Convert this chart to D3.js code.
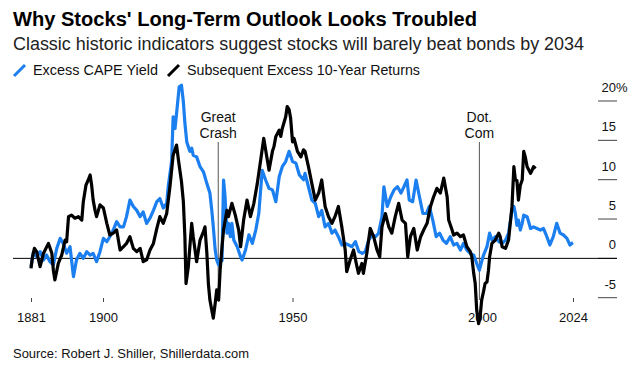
<!DOCTYPE html>
<html lang="en">
<head>
  <meta charset="UTF-8">
  <script src="https://d3js.org/d3.v7.min.js"></script>
  <title>Why Stocks' Long-Term Outlook Looks Troubled</title>
  <style>
    body { margin: 0; background: #fff; }
    svg { display: block; font-family: "Liberation Sans", Arial, sans-serif; }
  </style>
</head>
<body>
  <svg width="637" height="366"></svg>
  <script>
    // values: [year, percent]
    const capeYield = [
      [1881.0,-1.06],[1881.6,0.72],[1882.5,0.21],[1883.4,0.85],[1884.3,-0.21],[1885.1,0.42],
      [1886.0,-0.42],[1886.9,-0.85],[1887.8,1.27],[1888.7,2.54],[1889.5,1.91],[1890.4,0.64],
      [1891.3,1.48],[1892.2,-2.33],[1893.0,-0.21],[1893.9,0.64],[1894.8,0],[1895.7,0.85],
      [1896.6,0.42],[1897.4,0.64],[1898.3,-0.42],[1899.2,0.85],[1900.1,2.54],[1901.0,2.12],
      [1901.8,2.75],[1902.7,3.6],[1903.6,4.66],[1904.5,4.0],[1905.4,4.0],[1906.2,5.3],
      [1907.1,7.4],[1908.0,6.6],[1908.9,6.1],[1909.8,5.3],[1910.6,5.9],[1911.5,4.45],
      [1912.4,5.1],[1913.3,6.1],[1914.2,7.2],[1915.0,7.6],[1915.9,6.4],[1916.8,7.0],
      [1917.2,9.1],[1918.1,12.3],[1918.5,18.0],[1919.0,16.5],[1919.4,18.4],[1920.1,21.8],
      [1920.7,22.0],[1921.2,19.9],[1921.6,17.2],[1922.1,14.8],[1922.9,13.6],[1923.4,14.0],
      [1923.8,13.1],[1924.7,12.9],[1925.6,11.65],[1926.5,11.0],[1927.4,9.5],[1928.2,8.3],
      [1928.7,6.1],[1929.1,4.0],[1929.6,1.06],[1930.0,-0.2],[1930.5,-0.85],[1930.9,-0.2],
      [1931.4,-0.3],[1931.8,9.96],[1932.2,7.8],[1932.7,3.2],[1933.1,4.45],[1933.6,2.75],
      [1934.0,4.45],[1934.5,2.33],[1935.4,1.48],[1936.3,0.2],[1936.7,-0.2],[1937.6,1.06],
      [1938.5,3.0],[1939.4,1.9],[1940.3,3.6],[1941.1,5.7],[1942.0,11.2],[1942.9,9.96],
      [1943.8,8.9],[1944.7,8.7],[1945.6,7.2],[1946.5,10.4],[1947.3,11.65],[1948.2,12.3],
      [1949.1,13.6],[1950.0,12.3],[1950.9,12.1],[1951.8,10.6],[1952.9,10.0],[1953.3,10.8],
      [1954.2,9.1],[1955.1,7.4],[1956.0,7.0],[1956.9,5.3],[1957.7,6.1],[1958.6,4.0],
      [1959.5,4.45],[1960.4,3.2],[1961.2,3.6],[1962.1,2.75],[1963.0,1.7],[1963.9,1.9],
      [1964.8,1.7],[1965.7,1.48],[1966.6,2.12],[1967.5,0.85],[1968.4,0.64],[1969.2,0.85],
      [1970.1,2.33],[1971.0,3.0],[1971.9,2.75],[1972.7,3.2],[1973.6,5.3],[1974.1,9.1],
      [1975.0,6.6],[1975.9,7.8],[1976.8,8.7],[1977.7,9.1],[1978.6,8.3],[1979.4,9.1],
      [1980.2,9.96],[1980.8,7.4],[1981.7,7.2],[1982.6,9.96],[1983.5,7.8],[1984.4,5.7],
      [1985.3,5.7],[1986.1,6.6],[1987.0,4.87],[1987.9,2.75],[1988.8,3.2],[1989.7,2.33],
      [1990.6,1.9],[1991.6,2.75],[1992.5,1.7],[1993.4,1.9],[1994.3,1.06],[1995.1,1.9],
      [1996.0,1.06],[1996.9,0.64],[1997.8,0.42],[1998.6,-0.64],[1999.3,-1.5],[1999.9,-0.42],
      [2000.4,0.42],[2001.3,1.48],[2002.0,3.2],[2002.6,2.33],[2003.5,2.75],[2004.4,2.12],
      [2005.3,1.9],[2006.2,2.33],[2007.0,3.2],[2007.9,6.1],[2008.4,6.6],[2008.8,5.7],
      [2009.2,4.2],[2009.6,4.87],[2010.1,3.6],[2010.6,4.45],[2011.0,5.5],[2011.9,5.3],
      [2012.8,3.8],[2013.6,4.0],[2014.5,3.8],[2015.4,3.6],[2016.2,3.8],[2017.1,2.75],
      [2017.9,1.7],[2018.8,2.75],[2019.7,4.45],[2020.6,3.2],[2021.5,2.97],[2022.4,2.54],
      [2023.2,1.7],[2023.7,1.9],[2024.0,2.0]
    ];

    const excessReturns = [
      [1881.0,-1.27],[1881.4,0.2],[1881.9,1.27],[1882.5,0.85],[1883.4,-1.06],[1884.3,0.64],
      [1885.6,1.9],[1886.5,0.64],[1886.9,-1.5],[1887.3,-2.75],[1888.2,-0.64],[1889.1,0.42],
      [1890.0,2.33],[1890.4,2.1],[1890.9,5.3],[1891.7,5.5],[1892.6,5.1],[1893.5,5.3],
      [1894.4,4.87],[1894.8,7.2],[1895.5,9.3],[1896.1,9.96],[1896.6,10.6],[1897.0,9.3],
      [1897.4,7.4],[1897.9,6.1],[1898.3,5.3],[1899.2,6.8],[1900.1,6.4],[1901.0,4.45],
      [1901.8,2.97],[1902.7,3.2],[1903.6,3.6],[1904.5,1.06],[1905.4,1.48],[1906.2,1.9],
      [1907.1,2.75],[1908.0,1.27],[1908.9,0.85],[1909.8,1.27],[1910.6,-0.42],[1911.5,-0.2],
      [1912.4,1.06],[1913.3,1.9],[1914.2,3.8],[1915.0,5.3],[1915.9,4.45],[1916.8,5.7],
      [1917.7,9.3],[1918.5,13.1],[1919.4,14.4],[1919.9,12.5],[1920.7,9.75],[1921.2,7.2],
      [1921.6,2.75],[1921.9,-3.2],[1922.5,-1.06],[1923.4,4.45],[1923.8,2.75],[1924.7,-0.42],
      [1925.6,2.33],[1926.5,3.4],[1926.9,4.0],[1927.4,0.64],[1927.8,-3.2],[1928.2,-5.3],
      [1928.7,-6.6],[1929.1,-7.6],[1929.6,-5.7],[1930.0,-4.0],[1930.5,-5.3],[1930.9,-1.5],
      [1931.4,1.48],[1931.8,3.6],[1932.7,6.1],[1933.1,5.3],[1934.0,7.0],[1934.9,5.5],
      [1935.8,3.6],[1936.3,1.48],[1937.1,4.87],[1938.0,7.4],[1938.9,5.3],[1939.8,7.0],
      [1940.7,9.5],[1941.6,12.5],[1942.4,15.25],[1942.9,13.8],[1943.8,11.2],[1944.7,13.6],
      [1945.1,14.2],[1945.6,15.5],[1946.5,16.3],[1946.9,15.5],[1947.3,16.5],[1948.2,18.0],
      [1948.6,19.3],[1949.1,18.9],[1949.5,17.8],[1950.0,14.8],[1950.4,15.25],[1951.3,13.6],
      [1952.2,12.9],[1952.9,13.8],[1953.3,13.6],[1954.2,11.65],[1955.1,9.5],[1956.0,7.4],
      [1956.9,8.3],[1957.7,9.96],[1958.6,6.6],[1959.5,5.3],[1960.4,4.45],[1961.2,5.3],
      [1962.1,6.6],[1963.0,4.0],[1963.9,1.06],[1964.3,-1.7],[1965.2,-0.2],[1966.1,1.06],
      [1967.0,-1.06],[1967.4,-1.9],[1968.3,-0.64],[1968.7,-1.9],[1969.6,0.64],[1970.5,3.8],
      [1971.4,2.75],[1972.3,1.06],[1973.0,0.2],[1973.6,4.0],[1974.5,5.7],[1975.4,4.0],
      [1976.2,3.2],[1977.1,5.3],[1978.0,7.0],[1978.9,4.87],[1979.8,4.45],[1980.4,0.2],
      [1981.1,2.75],[1982.0,3.8],[1982.9,1.06],[1983.8,2.75],[1984.6,3.6],[1985.5,4.45],
      [1986.4,6.6],[1987.2,7.8],[1988.1,8.9],[1989.0,8.3],[1989.9,10.2],[1990.8,7.8],
      [1991.2,4.87],[1992.1,3.6],[1992.5,2.97],[1993.4,3.2],[1994.3,2.75],[1995.1,2.97],
      [1996.0,1.48],[1996.9,0.85],[1997.3,0.2],[1997.8,-1.9],[1998.2,-3.2],[1998.6,-6.6],
      [1999.1,-8.3],[1999.5,-7.4],[1999.9,-5.3],[2000.4,-4.2],[2000.8,-3.2],[2001.3,-3.0],
      [2001.7,-1.5],[2002.0,0.2],[2002.6,1.9],[2003.5,2.33],[2004.4,3.2],[2004.8,2.75],
      [2005.3,1.48],[2006.2,1.27],[2007.0,2.33],[2007.9,6.6],[2008.4,11.65],[2008.8,9.96],
      [2009.2,9.9],[2009.6,7.4],[2010.1,9.3],[2010.6,9.96],[2011.0,13.6],[2011.4,12.9],
      [2011.9,11.65],[2012.8,10.8],[2013.2,11.2],[2013.6,11.65],[2014.1,11.4]
    ];

    const xTicks = [1881, 1900, 1950, 2000, 2024];
    const yTicks = [-5, 0, 5, 10, 15, 20];
    const events = [
      { year: 1930.4, label: ["Great", "Crash"] },
      { year: 1999.3, label: ["Dot.", "Com"] }
    ];
    const seriesNames = ["Excess CAPE Yield", "Subsequent Excess 10-Year Returns"];

    const blue = "#1b7ff0";
    const svg = d3.select("svg");

    const xScale = d3.scaleLinear().domain([1881, 2024]).range([31, 573]);
    const yScale = d3.scaleLinear().domain([-5, 20]).range([297.7, 101]);

    // make the text take the same width as in the picture
    const fit = (sel, w) => {
      sel.attr("textLength", w).attr("lengthAdjust", "spacingAndGlyphs");
      return sel;
    };

    // header
    fit(svg.append("text").attr("x", 13).attr("y", 26)
      .style("font-size", "20px").style("font-weight", "bold").style("fill", "#000")
      .text("Why Stocks' Long-Term Outlook Looks Troubled"), 464);
    fit(svg.append("text").attr("x", 13).attr("y", 50)
      .style("font-size", "17.5px").style("fill", "#222")
      .text("Classic historic indicators suggest stocks will barely beat bonds by 2034"), 571);

    // legend
    const legendX = [14, 168];
    const legendW = [125, 233];
    [blue, "#000"].forEach((c, i) => {
      svg.append("line")
        .attr("x1", legendX[i]).attr("y1", 76).attr("x2", legendX[i] + 11).attr("y2", 65)
        .style("stroke", c).style("stroke-width", "3px");
      fit(svg.append("text").attr("x", legendX[i] + 19).attr("y", 75)
        .style("font-size", "14px").style("fill", "#111")
        .text(seriesNames[i]), legendW[i]);
    });

    // y axis on the right: short ticks with labels above them
    const yAxis = svg.append("g").attr("id", "yAxisG");
    yAxis.selectAll("line").data(yTicks).enter().append("line")
      .attr("x1", 598).attr("x2", 617)
      .attr("y1", d => yScale(d)).attr("y2", d => yScale(d))
      .style("stroke", "#444").style("stroke-width", "1px");
    yAxis.selectAll("text").data(yTicks).enter().append("text")
      .attr("x", 616).attr("y", d => yScale(d) - 9)
      .attr("text-anchor", "end")
      .style("font-size", "13px").style("fill", "#111")
      .text(d => d);
    yAxis.append("text").attr("x", 616).attr("y", yScale(20) - 9)
      .style("font-size", "13px").style("fill", "#111").text("%");

    // zero line
    svg.append("line")
      .attr("x1", 13).attr("x2", 617)
      .attr("y1", yScale(0)).attr("y2", yScale(0))
      .style("stroke", "#000").style("stroke-width", "1px");

    // x axis
    const xAxis = d3.axisBottom(xScale)
      .tickValues(xTicks)
      .tickFormat(d3.format("d"))
      .tickSize(4)
      .tickPadding(11);
    svg.append("g")
      .attr("id", "xAxisG")
      .attr("transform", "translate(0,298)")
      .call(xAxis)
      .call(g => g.select("path.domain").remove())
      .call(g => g.selectAll("line").style("stroke", "#444"))
      .call(g => g.selectAll("text")
        .style("font-size", "13px").style("fill", "#111")
        .style("font-family", "'Liberation Sans', Arial, sans-serif"));

    // event markers
    events.forEach(e => {
      svg.append("line")
        .attr("x1", xScale(e.year)).attr("x2", xScale(e.year))
        .attr("y1", 142).attr("y2", 300)
        .style("stroke", "#555").style("stroke-width", "1px");
      svg.append("text")
        .attr("x", xScale(e.year)).attr("y", 122)
        .attr("text-anchor", "middle")
        .style("font-size", "14px").style("fill", "#111")
        .selectAll("tspan").data(e.label).enter().append("tspan")
        .attr("x", xScale(e.year)).attr("dy", (d, i) => i ? 15.5 : 0)
        .text(d => d);
    });

    const line = d3.line()
      .x(d => xScale(d[0]))
      .y(d => yScale(d[1]));

    svg.append("path").datum(capeYield)
      .attr("d", line)
      .style("fill", "none").style("stroke", blue)
      .style("stroke-width", "3.2px").style("stroke-linejoin", "round");

    svg.append("path").datum(excessReturns)
      .attr("d", line)
      .style("fill", "none").style("stroke", "#000")
      .style("stroke-width", "3.2px").style("stroke-linejoin", "round");

    // source
    fit(svg.append("text").attr("x", 13).attr("y", 358)
      .style("font-size", "13px").style("fill", "#111")
      .text("Source: Robert J. Shiller, Shillerdata.com"), 236);
  </script>
</body>
</html>
